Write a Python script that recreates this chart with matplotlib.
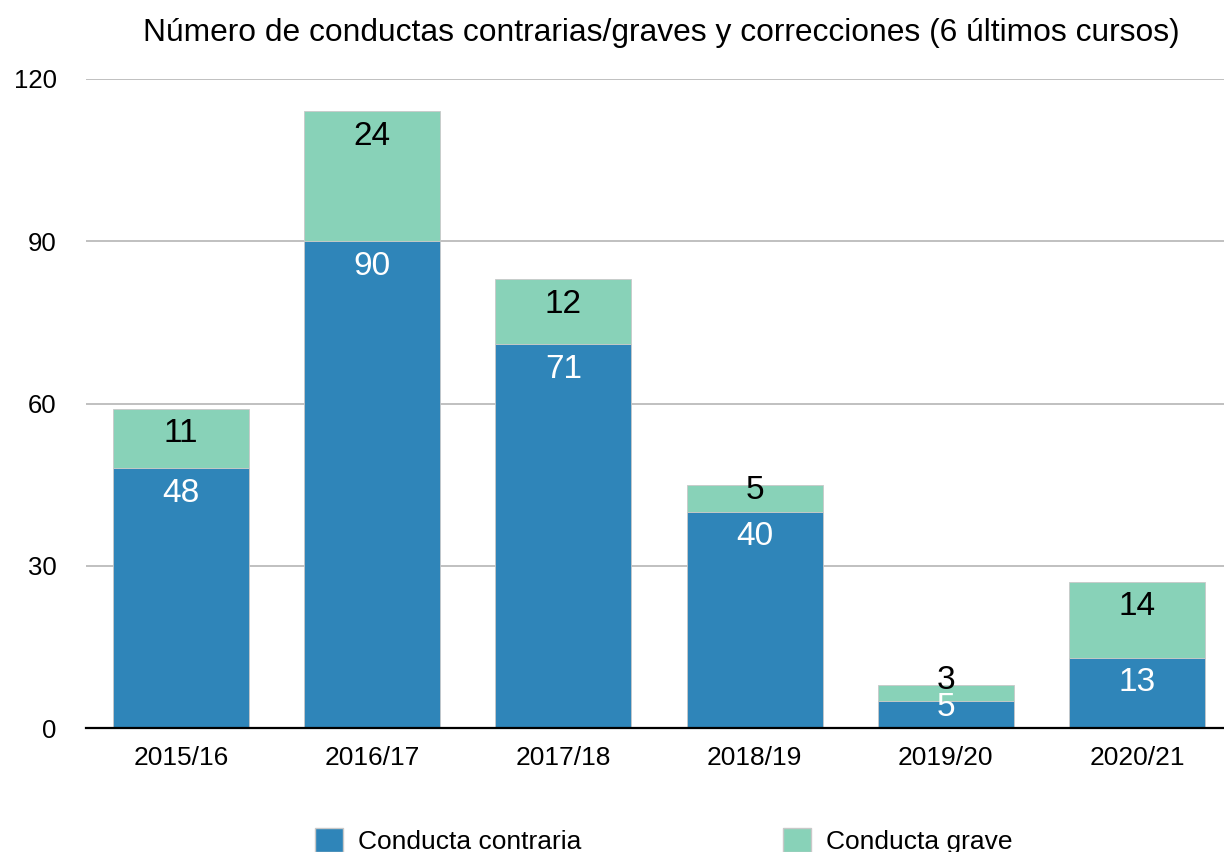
import matplotlib.pyplot as plt
from matplotlib.patches import Patch

plt.rcParams["font.family"] = ["Liberation Sans", "DejaVu Sans"]

cursos = ["2015/16", "2016/17", "2017/18", "2018/19", "2019/20", "2020/21"]
contraria = [48, 90, 71, 40, 5, 13]
grave = [11, 24, 12, 5, 3, 14]

c_contraria = "#2f85b9"
c_grave = "#88d2b8"

fig = plt.figure(figsize=(12.24, 8.52), dpi=100)
ax = fig.add_axes([86 / 1224, 1 - 728 / 852, 1 - 86 / 1224, (728 - 79) / 852])

x = range(len(cursos))
ax.bar(x, contraria, width=0.711, color=c_contraria, edgecolor="#c8c8c8", linewidth=0.6, zorder=3)
ax.bar(x, grave, width=0.711, bottom=contraria, color=c_grave, edgecolor="#c8c8c8", linewidth=0.6, zorder=3)

# etiquetas de valores, cerca de la parte superior de cada segmento
px = 0.72  # puntos por pixel a 100 dpi
for i in x:
    small = grave[i] < 8 and contraria[i] < 8
    off_c = -7 if small else -25
    off_g = 4 if small else -25
    if grave[i] < 8 and not small:
        off_g = -6
    ax.annotate(str(contraria[i]), (i, contraria[i]), xytext=(0, off_c * px),
                textcoords="offset points", ha="center", va="center",
                color="white", fontsize=24, zorder=4)
    ax.annotate(str(grave[i]), (i, contraria[i] + grave[i]), xytext=(0, off_g * px),
                textcoords="offset points", ha="center", va="center",
                color="black", fontsize=24, zorder=4)

ax.set_xlim(-0.497, 5.455)
ax.set_ylim(0, 120)
ax.set_yticks([0, 30, 60, 90, 120])
ax.set_xticks(list(x))
ax.set_xticklabels(cursos)
ax.tick_params(axis="y", length=0, pad=21, labelsize=18.5)
ax.tick_params(axis="x", length=0, pad=13, labelsize=19)
ax.grid(axis="y", color="#b5b5b5", linewidth=1.2, zorder=0)
for s in ["top", "right", "left"]:
    ax.spines[s].set_visible(False)
ax.spines["bottom"].set_color("black")
ax.spines["bottom"].set_linewidth(1.6)
ax.spines["bottom"].set_zorder(5)

fig.text(0.54, 1 - 33 / 852, "Número de conductas contrarias/graves y correcciones (6 últimos cursos)",
         ha="center", va="center", fontsize=22.9)

handles = [Patch(facecolor=c_contraria, edgecolor="#c8c8c8", label="Conducta contraria"),
           Patch(facecolor=c_grave, edgecolor="#c8c8c8", label="Conducta grave")]
fig.legend(handles=handles, loc="center left", bbox_to_anchor=(315 / 1224, 1 - 841 / 852),
           ncol=2, frameon=False, fontsize=19, handlelength=1.06, handleheight=1.06,
           handletextpad=0.57, columnspacing=7.65, borderaxespad=0, borderpad=0)

fig.savefig("out.png", dpi=100)
